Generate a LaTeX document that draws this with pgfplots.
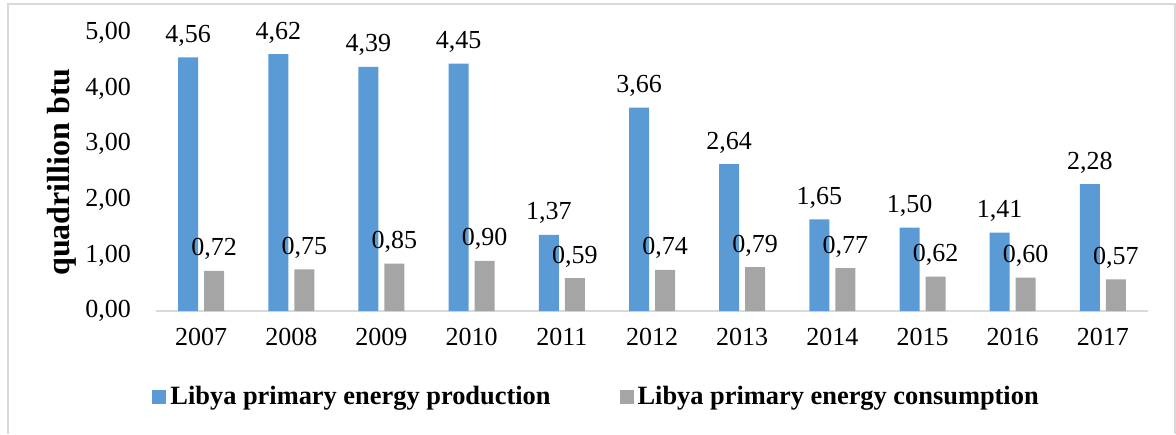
\documentclass[border=0pt]{standalone}
\usepackage{pgfplots}
\pgfplotsset{compat=1.18}
\usepackage{fontspec}
\setmainfont{Liberation Serif}
\definecolor{prodblue}{HTML}{5B9BD5}
\definecolor{consgray}{HTML}{A5A5A5}
\definecolor{frame}{HTML}{D9D9D9}

\begin{document}
\begin{tikzpicture}
\useasboundingbox (0,0) rectangle (588pt,217pt);
\draw[frame, line width=0.8pt] (4pt,0) -- (4pt,215pt) -- (587.5pt,215pt) -- (587.5pt,0);
\begin{axis}[
  at={(78pt,61.5pt)}, anchor=south west,
  scale only axis, width=496pt, height=139pt,
  ybar=3pt, bar width=10pt,
  xmin=-0.5, xmax=10.5, ymin=0, ymax=5,
  xtick={0,1,2,3,4,5,6,7,8,9,10},
  xticklabels={2007,2008,2009,2010,2011,2012,2013,2014,2015,2016,2017},
  ytick={0,1,2,3,4,5},
  major tick length=0pt,
  axis x line*=bottom, axis y line*=left,
  axis line style={frame, line width=0.8pt, -},
  y axis line style={draw=none},
  tick label style={font=\fontsize{13}{15}\selectfont},
  /pgf/number format/.cd, fixed, fixed zerofill, precision=2, use comma, assume math mode=true,
  /pgfplots/.cd,
  yticklabel style={xshift=-9pt},
  xticklabel style={yshift=-5pt},
  ylabel={\textbf{quadrillion btu}},
  ylabel style={font=\fontsize{16}{18}\selectfont, at={(axis description cs:-0.0948,0.5)}, anchor=center, rotate=0},
  nodes near coords,
  every node near coord/.append style={font=\fontsize{13}{15}\selectfont, yshift=2pt, color=black,
    /pgf/number format/.cd, fixed, fixed zerofill, precision=2, use comma, assume math mode=true},
  legend columns=2,
  legend style={draw=none, fill=none, at={(axis description cs:-0.004,-0.309)}, anchor=west,
    font=\fontsize{13.2}{15}\selectfont\bfseries, inner sep=0pt,
    /tikz/every even column/.append style={column sep=32.5pt}},
  legend image code/.code={\fill[#1] (0pt,-3.5pt) rectangle (7pt,3.5pt);},
]
\addplot[draw=none, fill=prodblue] coordinates {(0,4.56) (1,4.62) (2,4.39) (3,4.45) (4,1.37) (5,3.66) (6,2.64) (7,1.65) (8,1.50) (9,1.41) (10,2.28)};
\addlegendentry{Libya primary energy production}
\addplot[draw=none, fill=consgray] coordinates {(0,0.72) (1,0.75) (2,0.85) (3,0.90) (4,0.59) (5,0.74) (6,0.79) (7,0.77) (8,0.62) (9,0.60) (10,0.57)};
\addlegendentry{Libya primary energy consumption}
\end{axis}
\end{tikzpicture}
\end{document}
